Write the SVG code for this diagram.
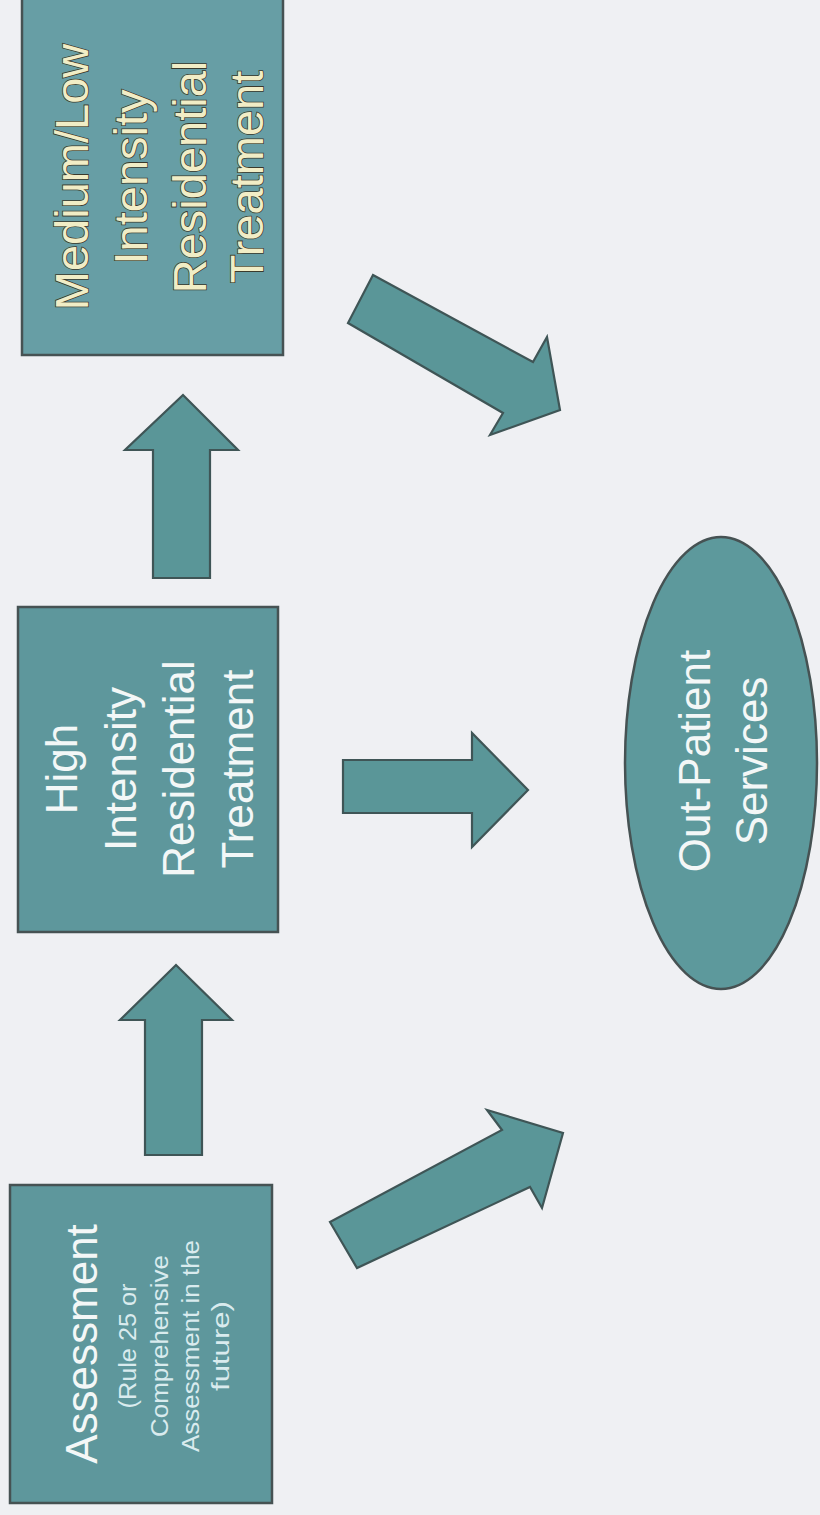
<svg xmlns="http://www.w3.org/2000/svg" width="820" height="1515" viewBox="0 0 820 1515">
<defs>
<style>
.box{fill:#5e979c;stroke:#465253;stroke-width:2.5}
.boxml{fill:#679ea5;stroke:#465253;stroke-width:2.5}
.arrow{fill:#5a9698;stroke:#3f5556;stroke-width:2.2;stroke-linejoin:miter}
.t{font-family:"Liberation Sans",Arial,sans-serif;text-anchor:middle;fill:#f3f7f7}
.ty{font-family:"Liberation Sans",Arial,sans-serif;text-anchor:middle;fill:#f1edc6;stroke:#3a3a2c;stroke-width:1.6;paint-order:stroke}
.ts{font-family:"Liberation Sans",Arial,sans-serif;text-anchor:middle;fill:#d9ebee}
</style>
</defs>
<rect x="0" y="0" width="820" height="1515" fill="#eff0f3"/>

<g id="connectors">
<polygon class="arrow" points="145,1155 145,1020 120,1020 176,965 232,1020 202,1020 202,1155"/>
<polygon class="arrow" points="153,578 153,450 125,450 183,395 238,450 210,450 210,578"/>
<polygon class="arrow" points="343,760 472,760 472,733 528,790 472,847 472,813 343,813"/>
<polygon class="arrow" points="373,275 533,362 547,337 560,410 490,435 503,413 348,323"/>
<polygon class="arrow" points="330,1222 502,1130 487,1110 563,1133 542,1208 530,1187 357,1268"/>
</g>

<g id="medium-low">
<rect class="boxml" x="22" y="-2" width="261" height="357"/>
<g transform="translate(0,177) rotate(-90)">
<text class="ty" x="0" y="88" font-size="47">Medium/Low</text>
<text class="ty" x="0" y="147" font-size="47">Intensity</text>
<text class="ty" x="0" y="206" font-size="47">Residential</text>
<text class="ty" x="0" y="263" font-size="47">Treatment</text>
</g>
</g>

<g id="high-intensity">
<rect class="box" x="18" y="607" width="260" height="325"/>
<g transform="translate(0,769) rotate(-90)">
<text class="t" x="0" y="77" font-size="44">High</text>
<text class="t" x="0" y="136" font-size="44">Intensity</text>
<text class="t" x="0" y="194" font-size="44">Residential</text>
<text class="t" x="0" y="253" font-size="44">Treatment</text>
</g>
</g>

<g id="assessment">
<rect class="box" x="10" y="1185" width="262" height="318"/>
<g transform="translate(0,1344) rotate(-90)">
<text class="t" x="0" y="97" font-size="44">Assessment</text>
</g>
<g transform="translate(0,1346) rotate(-90)">
<text class="ts" x="0" y="136" font-size="23" textLength="125" lengthAdjust="spacingAndGlyphs">(Rule 25 or</text>
<text class="ts" x="0" y="168" font-size="23" textLength="182" lengthAdjust="spacingAndGlyphs">Comprehensive</text>
<text class="ts" x="0" y="199" font-size="23" textLength="212" lengthAdjust="spacingAndGlyphs">Assessment in the</text>
<text class="ts" x="0" y="229" font-size="23" textLength="90" lengthAdjust="spacingAndGlyphs">future)</text>
</g>
</g>

<g id="out-patient">
<ellipse cx="721" cy="763" rx="96" ry="226" fill="#5d999c" stroke="#465253" stroke-width="2.5"/>
<g transform="translate(0,761) rotate(-90)">
<text class="t" x="0" y="710" font-size="44">Out-Patient</text>
<text class="t" x="0" y="767" font-size="44">Services</text>
</g>
</g>
</svg>
